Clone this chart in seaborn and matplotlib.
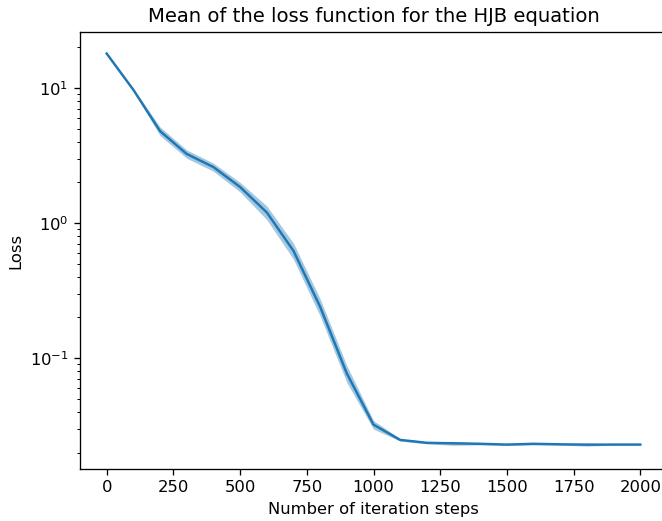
import numpy as np
import pandas as pd
import seaborn as sns
import matplotlib
matplotlib.use("Agg")
import matplotlib.pyplot as plt

steps = list(range(0, 2001, 100))
run_1 = [17.7, 9.5, 4.45, 3.02, 2.42, 1.70, 1.06, 0.54, 0.205, 0.066, 0.0298, 0.0243, 0.0232, 0.0226, 0.0228, 0.0226, 0.0228, 0.0227, 0.0223, 0.0227, 0.0227]
run_2 = [18.0, 9.7, 4.80, 3.25, 2.60, 1.85, 1.20, 0.62, 0.240, 0.077, 0.0322, 0.0248, 0.0236, 0.0234, 0.0232, 0.0229, 0.0232, 0.0230, 0.0228, 0.0229, 0.0229]
run_3 = [18.3, 9.9, 5.15, 3.48, 2.78, 2.00, 1.34, 0.71, 0.275, 0.088, 0.0345, 0.0253, 0.0240, 0.0242, 0.0236, 0.0232, 0.0236, 0.0233, 0.0235, 0.0231, 0.0231]

df = pd.DataFrame({
    "step": steps * 3,
    "loss": run_1 + run_2 + run_3,
})

dpi = 118
fig = plt.figure(figsize=(662 / dpi, 521 / dpi), dpi=dpi)
ax = fig.add_axes([80 / 662, 52 / 521, 587 / 662, 437 / 521])
sns.lineplot(data=df, x="step", y="loss", errorbar=("pi", 100),
             err_kws={"alpha": 0.4, "linewidth": 0}, ax=ax)
ax.set_yscale("log")
ax.set_xlim(-100, 2100)
ax.set_ylim(0.0151, 26)
ax.set_xlabel("Number of iteration steps")
ax.set_ylabel("Loss")
ax.set_title("Mean of the loss function for the HJB equation")
fig.savefig("out.png", dpi=dpi)
